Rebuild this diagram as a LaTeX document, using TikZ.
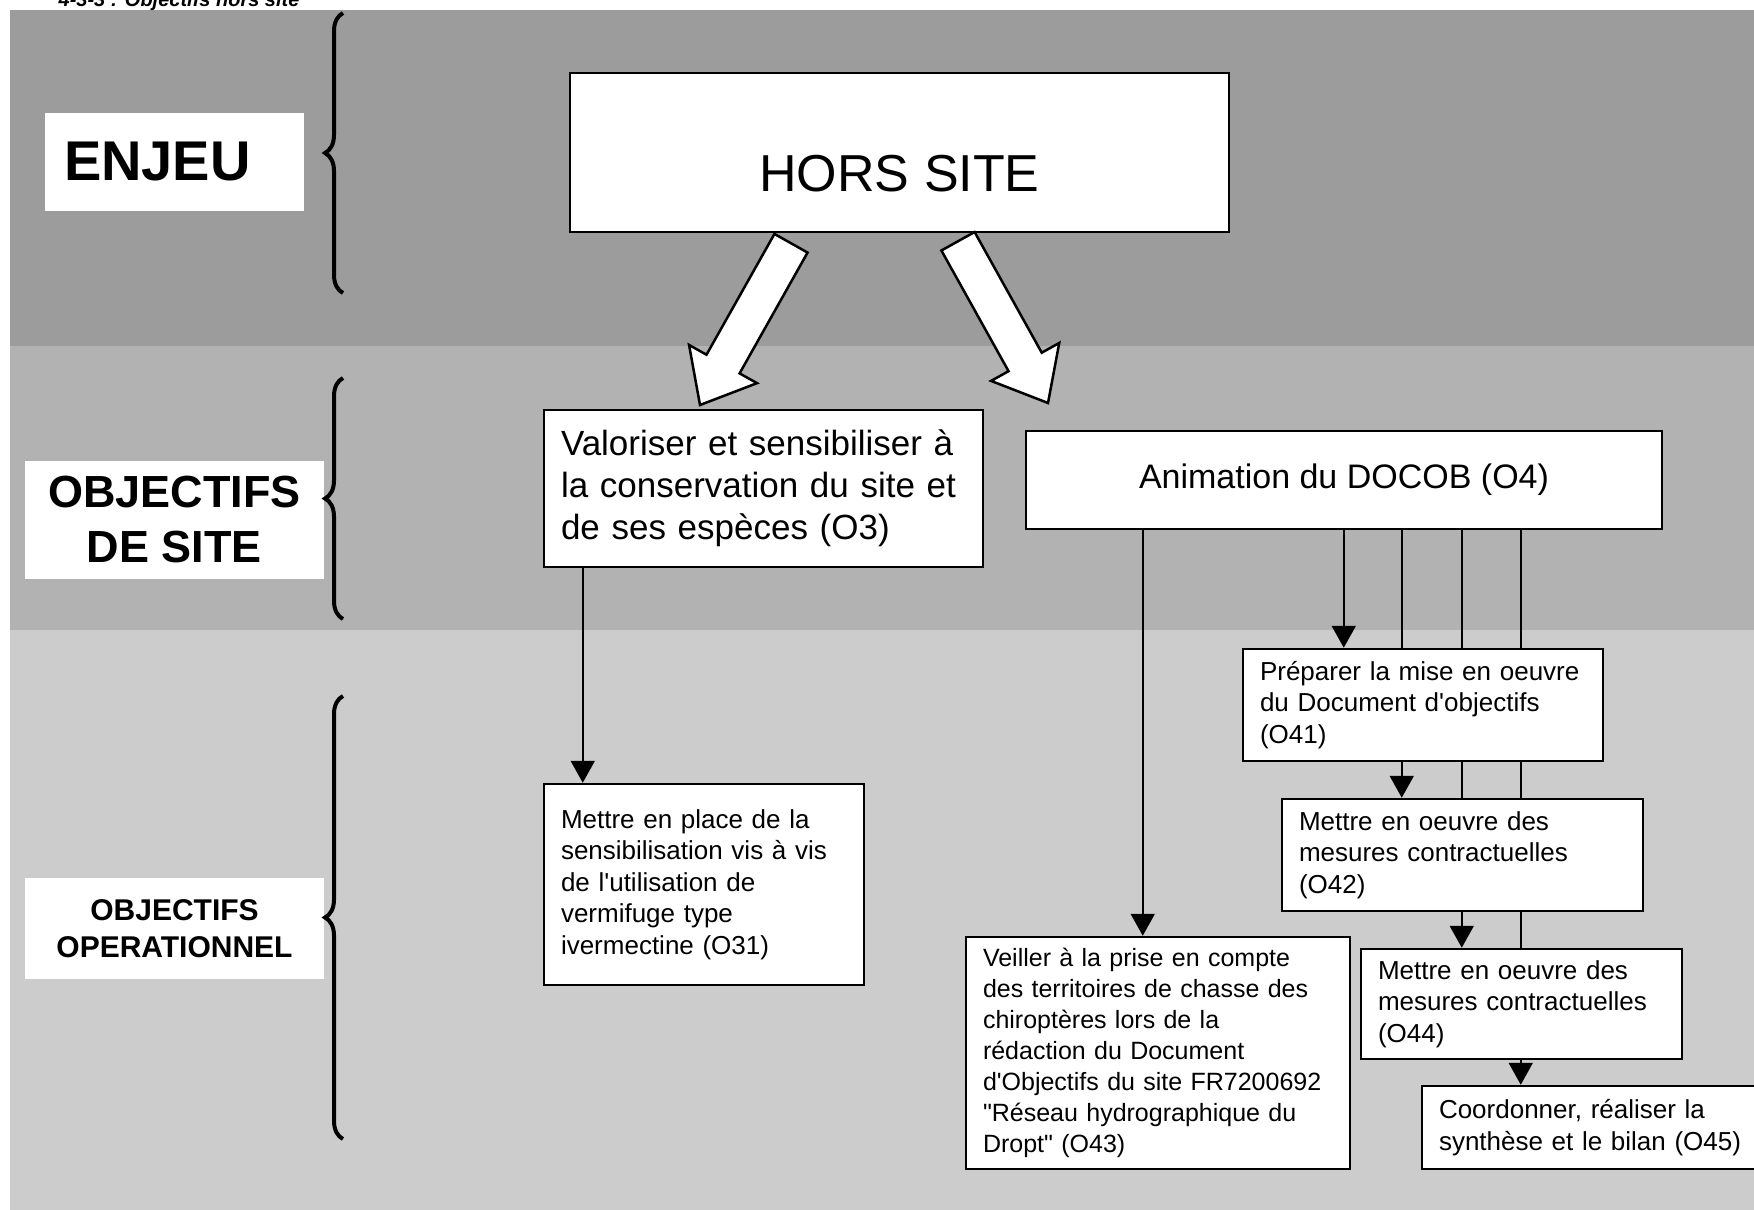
\documentclass[tikz,border=0pt]{standalone}
\usepackage{fontspec}
\setmainfont{Liberation Sans}[Ligatures=TeXOff]
\usetikzlibrary{arrows.meta,calc,decorations.pathreplacing}

\definecolor{bandtop}{gray}{0.61}
\definecolor{bandmid}{gray}{0.70}
\definecolor{bandlow}{gray}{0.80}

\pgfdeclarelayer{bands}
\pgfdeclarelayer{links}
\pgfsetlayers{bands,links,main}

% hollow block arrow from #1 (tail centre) to #2 (tip)
\newcommand{\blockarrow}[2]{%
  \path ($(#2)!47pt!(#1)$) coordinate (neck);
  \draw[fat] ($(#1)!19pt!90:(#2)$) -- ($(neck)!19pt!90:(#2)$) -- ($(neck)!39pt!90:(#2)$) -- (#2)
    -- ($(neck)!39pt!-90:(#2)$) -- ($(neck)!19pt!-90:(#2)$) -- ($(#1)!19pt!-90:(#2)$) -- cycle;}

\begin{document}
\begin{tikzpicture}[x=1pt, y=-1pt,
    box/.style={draw, fill=white, line width=2.5pt, align=left, inner xsep=17pt, inner ysep=0pt},
    small/.style={box, font=\fontsize{26}{31.5}\selectfont},
    level/.style={fill=white, inner sep=0pt, align=center},
    link/.style={-{Triangle[length=22pt,width=24pt]}, line width=2pt},
    curly/.style={decorate, decoration={brace, amplitude=18pt}, line width=4pt},
    fat/.style={draw, fill=white, line width=2.5pt, line join=miter}]

    \useasboundingbox (0,0) rectangle (1754,1210);
    \clip (0,0) rectangle (1754,1210);

    % the three grey levels
    \begin{pgfonlayer}{bands}
        \fill[bandtop] (10,10) rectangle (1754,346);
        \fill[bandmid] (10,346) rectangle (1754,630);
        \fill[bandlow] (10,630) rectangle (1754,1210);
    \end{pgfonlayer}

    \node[anchor=base east, font=\fontsize{20}{24}\selectfont\bfseries\itshape] (title) at (303,6) {4-3-3 : Objectifs hors site};

    % level labels and braces on the left
    \node[level, font=\fontsize{56}{60}\selectfont\bfseries, minimum width=259pt, minimum height=98pt,
          text width=221pt, align=left] (enjeu) at (174.5,162) {ENJEU};
    \node[level, font=\fontsize{45}{55}\selectfont\bfseries, minimum width=299pt, minimum height=118pt]
          (site) at (174.5,520) {OBJECTIFS\\DE SITE};
    \node[level, font=\fontsize{30}{37}\selectfont\bfseries, minimum width=299pt, minimum height=101pt]
          (oper) at (174.5,928.5) {OBJECTIFS\\OPERATIONNEL};

    \draw[curly] (343,293) -- (343,13);
    \draw[curly] (343,619) -- (343,378);
    \draw[curly] (343,1139) -- (343,696);

    % enjeu
    \node[box, font=\fontsize{52}{60}\selectfont, minimum width=659pt, minimum height=159pt,
          text height=77pt, text depth=0pt] (hors) at (899.5,152.5) {HORS SITE};

    % objectifs de site
    \node[box, font=\fontsize{35}{42}\selectfont, text width=405pt, minimum height=157pt] (o3) at (763.5,488.5)
        {Valoriser et sensibiliser à\\la conservation du site et\\de ses espèces (O3)};
    \node[box, font=\fontsize{34}{40}\selectfont, minimum width=636pt, minimum height=98pt] (o4) at (1344,480)
        {Animation du DOCOB (O4)};

    % objectifs operationnels
    \node[small, text width=286pt, minimum height=201pt] (o31) at (704,884.5)
        {Mettre en place de la\\sensibilisation vis à vis\\de l'utilisation de\\vermifuge type\\ivermectine (O31)};
    \node[small, font=\fontsize{25}{31}\selectfont, text width=350pt, minimum height=232pt] (o43) at (1158,1053)
        {Veiller à la prise en compte\\des territoires de chasse des\\chiroptères lors de la\\rédaction du Document\\d'Objectifs du site FR7200692\\"Réseau hydrographique du\\Dropt" (O43)};
    \node[small, text width=326pt, minimum height=112pt] (o41) at (1423,705)
        {Préparer la mise en oeuvre\\du Document d'objectifs\\(O41)};
    \node[small, text width=327pt, minimum height=112pt] (o42) at (1462.5,855)
        {Mettre en oeuvre des\\mesures contractuelles\\(O42)};
    \node[small, text width=287pt, minimum height=110pt] (o44) at (1521.5,1004)
        {Mettre en oeuvre des\\mesures contractuelles\\(O44)};
    \node[small, text width=326pt, minimum height=83pt] (o45) at (1602,1127.5)
        {Coordonner, réaliser la\\synthèse et le bilan (O45)};

    % hollow arrows from the enjeu
    \coordinate (lt) at ($(hors.south)+(-108.5,10)$);
    \coordinate (lh) at (700,405);
    \coordinate (rt) at ($(hors.south)+(58.5,8)$);
    \coordinate (rh) at (1048,403);
    \blockarrow{lt}{lh}
    \blockarrow{rt}{rh}

    % links, kept under the boxes
    \begin{pgfonlayer}{links}
        \coordinate (d31) at ([xshift=40pt]o31.north west);
        \coordinate (d43) at ([xshift=178pt]o43.north west);
        \draw[link] (d31 |- o3.south) -- (d31);
        \draw[link] (d43 |- o4.south) -- (d43);
        \foreach \t/\dx in {o41/102, o42/121, o44/102, o45/100} {
            \coordinate (d) at ([xshift=\dx pt]\t.north west);
            \draw[link] (d |- o4.south) -- (d);
        }
    \end{pgfonlayer}
\end{tikzpicture}
\end{document}
